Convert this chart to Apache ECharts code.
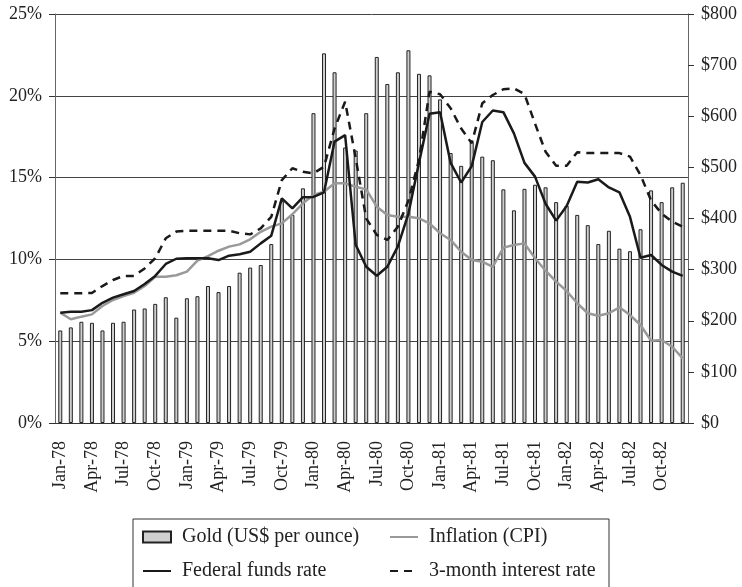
<!DOCTYPE html>
<html>
<head>
<meta charset="utf-8">
<title>Gold, inflation and interest rates 1978-82</title>
<script src="https://cdn.jsdelivr.net/npm/echarts@6/dist/echarts.min.js"></script>
<style>
  html, body { margin: 0; padding: 0; background: #fff; }
  #chart { width: 742px; height: 587px; }
</style>
</head>
<body>
<div id="chart"></div>
<script>
const months = [
  'Jan-78','Feb-78','Mar-78','Apr-78','May-78','Jun-78','Jul-78','Aug-78','Sep-78','Oct-78','Nov-78','Dec-78',
  'Jan-79','Feb-79','Mar-79','Apr-79','May-79','Jun-79','Jul-79','Aug-79','Sep-79','Oct-79','Nov-79','Dec-79',
  'Jan-80','Feb-80','Mar-80','Apr-80','May-80','Jun-80','Jul-80','Aug-80','Sep-80','Oct-80','Nov-80','Dec-80',
  'Jan-81','Feb-81','Mar-81','Apr-81','May-81','Jun-81','Jul-81','Aug-81','Sep-81','Oct-81','Nov-81','Dec-81',
  'Jan-82','Feb-82','Mar-82','Apr-82','May-82','Jun-82','Jul-82','Aug-82','Sep-82','Oct-82','Nov-82','Dec-82'
]

// gold, US$ per ounce (right axis)
const gold = [
  181, 187, 198, 196, 181, 196, 198, 222, 224, 233, 246, 206,
  244, 248, 268, 256, 268, 294, 304, 309, 350, 434, 407, 459,
  606, 723, 686, 539, 533, 606, 716, 663, 686, 729, 683, 680,
  633, 528, 503, 550, 521, 514, 457, 416, 458, 466, 461, 432,
  425, 407, 387, 350, 376, 341, 336, 379, 455, 432, 461, 470
]

// percent (left axis)
const inflation = [
  6.74, 6.34, 6.5, 6.64, 7.15, 7.52, 7.76, 7.96, 8.37, 8.94, 8.94, 9.03,
  9.25, 9.92, 10.2, 10.53, 10.78, 10.92, 11.23, 11.69, 12.0, 12.2, 12.76, 13.43,
  13.94, 14.14, 14.65, 14.65, 14.44, 14.28, 13.22, 12.71, 12.61, 12.61, 12.51, 12.2,
  11.6, 11.19, 10.47, 9.96, 9.86, 9.55, 10.72, 10.88, 10.98, 10.07, 9.31, 8.64,
  8.07, 7.32, 6.71, 6.56, 6.71, 7.07, 6.6, 5.99, 5.03, 5.07, 4.66, 3.95
]

const fedFunds = [
  6.74, 6.8, 6.8, 6.9, 7.35, 7.66, 7.87, 8.07, 8.5, 8.99, 9.72, 10.04,
  10.07, 10.07, 10.07, 9.96, 10.23, 10.31, 10.47, 10.98, 11.45, 13.73, 13.12, 13.8,
  13.82, 14.1, 17.2, 17.6, 10.9, 9.55, 9.0, 9.55, 10.8, 12.8, 15.9, 18.9,
  19.0, 15.9, 14.7, 15.7, 18.4, 19.1, 19.0, 17.7, 15.9, 15.06, 13.4, 12.37,
  13.26, 14.75, 14.7, 14.9, 14.4, 14.1, 12.6, 10.1, 10.27, 9.66, 9.25, 8.99
]

const threeMonth = [
  7.93, 7.93, 7.93, 7.95, 8.37, 8.74, 8.99, 8.99, 9.45, 10.07, 11.29, 11.7,
  11.75, 11.75, 11.75, 11.75, 11.75, 11.6, 11.53, 11.9, 12.6, 14.85, 15.57, 15.36,
  15.26, 15.67, 18.0, 19.64, 16.2, 12.5, 11.5, 11.19, 12.0, 13.6, 16.08, 20.25,
  20.1, 19.24, 18.0, 17.1, 19.54, 20.05, 20.4, 20.46, 20.1, 18.3, 16.58, 15.73,
  15.73, 16.55, 16.5, 16.5, 16.5, 16.5, 16.28, 15.16, 13.6, 12.8, 12.3, 12.0
]

const serif = '"Liberation Serif", "DejaVu Serif", serif'
const rightColumn = ['Inflation (CPI)', '3-month interest rate']
const noDot = { color: 'rgba(0,0,0,0)', borderWidth: 0, opacity: 0 }

const chart = echarts.init(document.getElementById('chart'))

const option = {
  animation: false,
  textStyle: { fontFamily: serif },
  grid: { left: 55, right: 54, top: 14, bottom: 164 },
  legend: {
    left: 133,
    top: 519,
    width: 460,
    orient: 'horizontal',
    padding: [8, 8, 30, 9],
    itemGap: 14,
    itemWidth: 28,
    itemHeight: 11,
    borderColor: '#333',
    borderWidth: 1,
    formatter: name => (rightColumn.includes(name) ? '{b|' : '{a|') + name + '}',
    textStyle: {
      fontFamily: serif,
      fontSize: 20,
      color: '#222',
      rich: {
        a: { width: 193, padding: [0, 0, 0, 6], fontFamily: serif, fontSize: 20, lineHeight: 20, color: '#222' },
        b: { width: 172, padding: [0, 0, 0, 6], fontFamily: serif, fontSize: 20, lineHeight: 20, color: '#222' }
      }
    },
    data: [
      { name: 'Gold (US$ per ounce)', icon: 'rect' },
      { name: 'Inflation (CPI)', itemStyle: noDot },
      { name: 'Federal funds rate', itemStyle: noDot },
      { name: '3-month interest rate', itemStyle: noDot }
    ]
  },
  xAxis: {
    type: 'category',
    data: months,
    boundaryGap: true,
    axisLine: { lineStyle: { color: '#333', width: 1 } },
    axisTick: { interval: 2, length: 5, lineStyle: { color: '#333' } },
    axisLabel: {
      interval: 2,
      rotate: 90,
      margin: 18,
      fontFamily: serif,
      fontSize: 18,
      color: '#222'
    }
  },
  yAxis: [
    {
      type: 'value',
      min: 0,
      max: 25,
      interval: 5,
      axisLine: { show: true, lineStyle: { color: '#666' } },
      axisTick: { show: true, length: 6, lineStyle: { color: '#333' } },
      axisLabel: { formatter: '{value}%', margin: 13, fontFamily: serif, fontSize: 18, color: '#222' },
      splitLine: { lineStyle: { color: '#444', width: 1 } }
    },
    {
      type: 'value',
      min: 0,
      max: 800,
      interval: 100,
      position: 'right',
      axisLine: { show: true, lineStyle: { color: '#666' } },
      axisTick: { show: true, length: 6, lineStyle: { color: '#333' } },
      axisLabel: { formatter: v => '$' + v, margin: 13, fontFamily: serif, fontSize: 18, color: '#222' },
      splitLine: { show: false }
    }
  ],
  series: [
    {
      name: 'Gold (US$ per ounce)',
      type: 'bar',
      yAxisIndex: 1,
      data: gold,
      barWidth: 4,
      itemStyle: { color: '#cfcfcf', borderColor: '#222', borderWidth: 1 }
    },
    {
      name: 'Inflation (CPI)',
      type: 'line',
      data: inflation,
      symbol: 'none',
      lineStyle: { color: '#999', width: 2.5 },
      itemStyle: { color: '#999' },
      z: 3
    },
    {
      name: 'Federal funds rate',
      type: 'line',
      data: fedFunds,
      symbol: 'none',
      lineStyle: { color: '#1a1a1a', width: 2.5 },
      itemStyle: { color: '#1a1a1a' },
      z: 4
    },
    {
      name: '3-month interest rate',
      type: 'line',
      data: threeMonth,
      symbol: 'none',
      lineStyle: { color: '#1a1a1a', width: 2.5, type: [8, 6] },
      itemStyle: { color: '#1a1a1a' },
      z: 4
    }
  ]
}

chart.setOption(option)
</script>
</body>
</html>
